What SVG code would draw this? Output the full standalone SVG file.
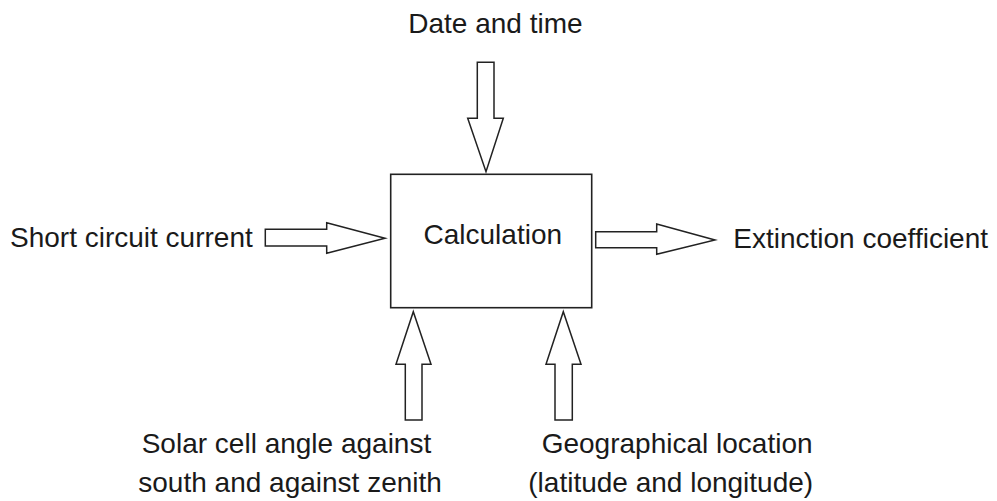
<svg xmlns="http://www.w3.org/2000/svg" width="997" height="501" viewBox="0 0 997 501">
<style>
text{font-family:"Liberation Sans",Arial,sans-serif;font-size:28px;fill:#1a1a1a}
.box{fill:#fff;stroke:#222;stroke-width:1.6}
.arr{fill:#fff;stroke:#222;stroke-width:1.5;stroke-linejoin:miter}
</style>
<rect width="997" height="501" fill="#fff"/>
<g id="connectors">
<polygon class="arr" points="477.3,62.3 494,62.3 494,118.3 503.3,118.3 486,171.7 467.7,118.3 477.3,118.3"/>
<polygon class="arr" points="265.3,229.3 326.7,229.3 326.7,222.7 385,238.3 326.7,253.3 326.7,246 265.3,246"/>
<polygon class="arr" points="595.7,231.7 656.7,231.7 656.7,224 715,240 656.7,254.3 656.7,247.7 595.7,247.7"/>
<polygon class="arr" points="405.3,420 422,420 422,364.3 431,364.3 413.3,311.7 396,364.3 405.3,364.3"/>
<polygon class="arr" points="555,420 572.3,420 572.3,364.3 581,364.3 563.3,311.7 546,364.3 555,364.3"/>
</g>
<g id="calculation">
<rect class="box" x="390.7" y="174.3" width="201" height="133.4"/>
<text x="423.5" y="244">Calculation</text>
</g>
<g id="date-time">
<text x="408.3" y="33.3">Date and time</text>
</g>
<g id="short-circuit">
<text x="10" y="246.7">Short circuit current</text>
</g>
<g id="extinction">
<text x="733.3" y="247.7">Extinction coefficient</text>
</g>
<g id="solar-angle">
<text x="141.7" y="453.3">Solar cell angle against</text>
<text x="138.3" y="491.7">south and against zenith</text>
</g>
<g id="geo-location">
<text x="541.7" y="453.3">Geographical location</text>
<text x="528.3" y="491.7">(latitude and longitude)</text>
</g>
</svg>
